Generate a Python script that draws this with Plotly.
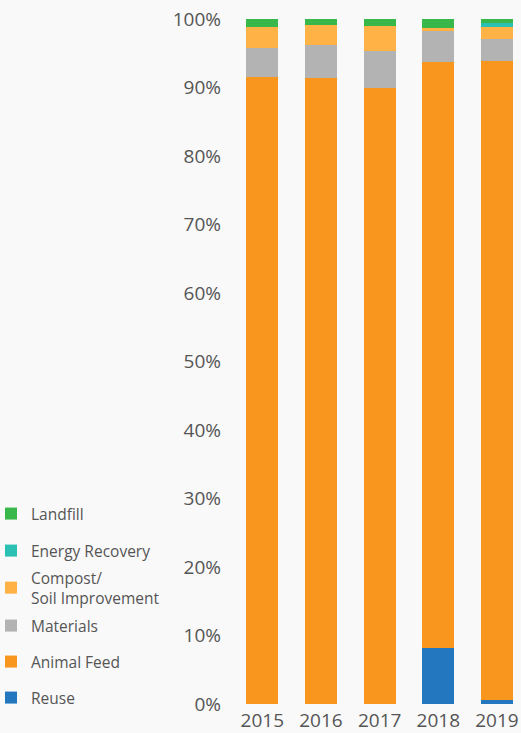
import plotly.graph_objects as go

# Share of food waste by destination, per year (%)
years = ["2015", "2016", "2017", "2018", "2019"]
reuse = [0.0, 0.0, 0.0, 8.2, 0.6]
animal_feed = [91.6, 91.4, 89.9, 85.5, 93.3]
materials = [4.1, 4.8, 5.5, 4.5, 3.2]
compost = [3.1, 2.9, 3.6, 0.5, 1.8]
energy_recovery = [0.0, 0.0, 0.0, 0.0, 0.5]
landfill = [1.2, 0.9, 1.0, 1.3, 0.6]

y_tick_values = [0, 10, 20, 30, 40, 50, 60, 70, 80, 90, 100]
y_tick_labels = ["0%", "10%", "20%", "30%", "40%", "50%",
                 "60%", "70%", "80%", "90%", "100%"]

series = [
    ("Reuse", reuse, "#2277bf"),
    ("Animal Feed", animal_feed, "#f8961e"),
    ("Materials", materials, "#b3b3b3"),
    ("Compost/<br>Soil Improvement", compost, "#ffb347"),
    ("Energy Recovery", energy_recovery, "#2bc0b4"),
    ("Landfill", landfill, "#38b84a"),
]

W, H = 521, 733
FONT = "Open Sans"
TEXT = "#555555"
PLOT_LEFT, PLOT_RIGHT = 233, 0
PLOT_W = W - PLOT_LEFT - PLOT_RIGHT

# vertical centre (px from top) of each legend entry
legend_y_px = [698, 662, 626, 588, 551, 514]
legend_left_px = -9

fig = go.Figure()
layout_legends = {}
for i, (name, vals, color) in enumerate(series):
    key = "legend" if i == 0 else f"legend{i + 1}"
    fig.add_trace(go.Bar(
        x=years, y=vals, name=name,
        marker=dict(color=color, line=dict(width=0)),
        legend=key,
    ))
    layout_legends[key] = dict(
        xref="paper", yref="container",
        x=(legend_left_px - PLOT_LEFT) / PLOT_W, xanchor="left",
        y=1 - legend_y_px[i] / H, yanchor="middle",
        bgcolor="rgba(0,0,0,0)", borderwidth=0,
        font=dict(family=FONT, size=15.5, color=TEXT),
        itemclick=False, itemdoubleclick=False,
    )

fig.update_layout(
    width=W, height=H,
    barmode="stack",
    bargap=0.455,
    paper_bgcolor="#f9f9f9",
    plot_bgcolor="#f9f9f9",
    margin=dict(l=PLOT_LEFT, r=PLOT_RIGHT, t=19, b=29, pad=0,
                autoexpand=False),
    font=dict(family=FONT, color=TEXT),
    showlegend=True,
    xaxis=dict(
        range=[-0.5, 4.41],
        showgrid=False, zeroline=False, showline=False,
        ticks="", ticklabelstandoff=3,
        tickfont=dict(family=FONT, size=19, color=TEXT),
        fixedrange=True,
    ),
    yaxis=dict(
        range=[0, 100],
        tickmode="array",
        tickvals=y_tick_values,
        ticktext=y_tick_labels,
        showgrid=False, zeroline=False, showline=False,
        ticks="", ticklabelstandoff=11,
        tickfont=dict(family=FONT, size=19, color=TEXT),
        fixedrange=True,
    ),
    **layout_legends,
)

fig.write_html("out.html", config={"displayModeBar": False})
